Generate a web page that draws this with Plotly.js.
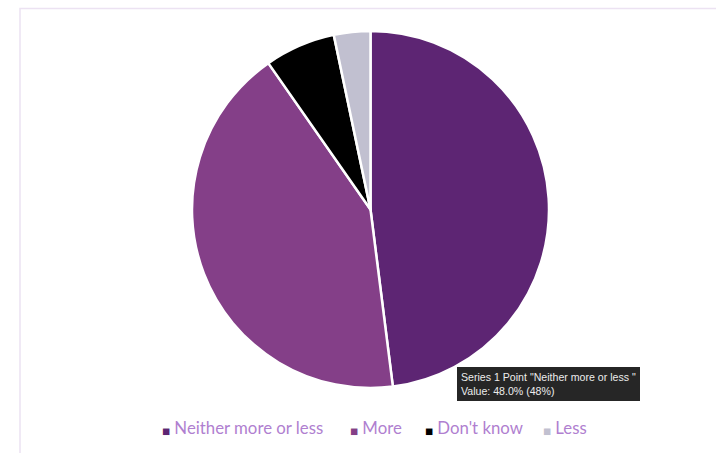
<!DOCTYPE html>
<html>
<head>
<meta charset="utf-8">
<script src="https://cdn.plot.ly/plotly-3.0.1.min.js"></script>
<style>html,body{margin:0;padding:0;background:#fff;}#chart{width:716px;height:453px;}</style>
</head>
<body>
<div id="chart"></div>
<script>
const categories = ["Neither more or less", "More", "Don't know", "Less"];
const values = [48.0, 42.3, 6.4, 3.3];
const colors = ["#5d2573", "#843f88", "#000000", "#c1c0d0"];
const tooltipSeries = "Series 1";
const tooltipIndex = 0;

const W = 716, H = 453;
const px = x => x / W;
const py = y => 1 - y / H;

const legendX = [160, 348, 423, 541];
const annotations = categories.map((c, i) => ({
  xref: 'paper', yref: 'paper', x: px(legendX[i]), y: py(427),
  xanchor: 'left', yanchor: 'middle', showarrow: false,
  text: '<span style="color:' + colors[i] + ';font-size:8.5px;font-family:DejaVu Sans">■</span> ' + c,
  font: {family: 'Lato, "Open Sans", sans-serif', size: 16.8, color: '#b07fd0'}
}));

annotations.push({
  xref: 'paper', yref: 'paper', x: px(457), y: py(367),
  xanchor: 'left', yanchor: 'top', showarrow: false, align: 'left',
  text: tooltipSeries + ' Point "' + categories[tooltipIndex] + ' "<br>Value: ' +
        values[tooltipIndex].toFixed(1) + '% (' + Math.round(values[tooltipIndex]) + '%)',
  font: {family: 'Liberation Sans, Arial, sans-serif', size: 10.6, color: '#ececec'},
  bgcolor: '#262626', bordercolor: '#262626', borderwidth: 1, borderpad: 3
});

const data = [{
  type: 'pie',
  labels: categories,
  values: values,
  sort: false,
  direction: 'clockwise',
  rotation: 0,
  marker: {colors: colors, line: {color: '#ffffff', width: 2.5}},
  textinfo: 'none',
  hoverinfo: 'none',
  showlegend: false,
  domain: {x: [px(192), px(549)], y: [py(388), py(31)]}
}];

const layout = {
  width: W, height: H,
  margin: {l: 0, r: 0, t: 0, b: 0},
  paper_bgcolor: '#ffffff',
  showlegend: false,
  annotations: annotations,
  shapes: [
    {type: 'rect', xref: 'paper', yref: 'paper', x0: px(20), x1: 1.02, y0: -0.02, y1: py(8.5),
     fillcolor: 'rgba(0,0,0,0)', line: {color: '#ece2f2', width: 1.5}, layer: 'below'}
  ]
};

Plotly.newPlot('chart', data, layout, {staticPlot: true, displayModeBar: false});
</script>
</body>
</html>
